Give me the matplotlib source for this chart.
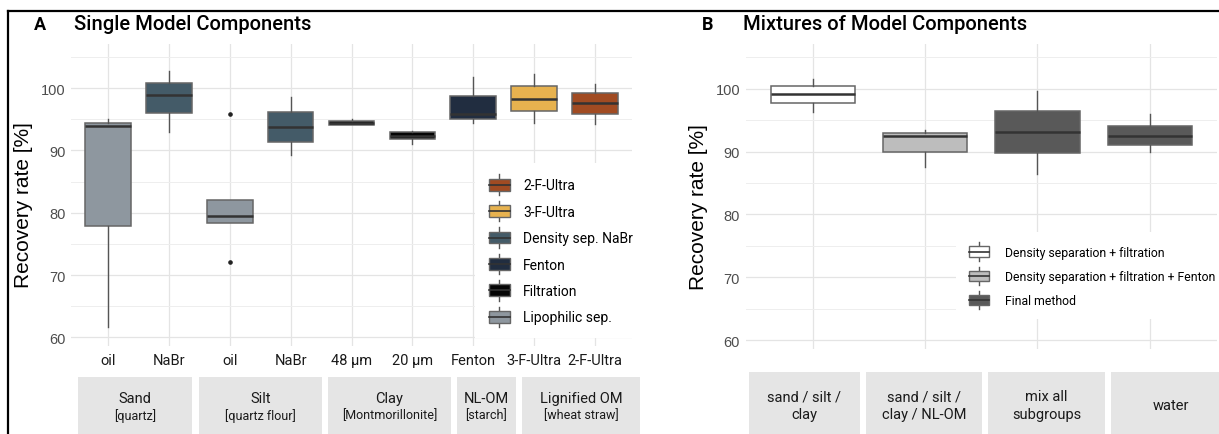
import matplotlib
matplotlib.use("Agg")
import matplotlib.pyplot as plt
from matplotlib.patches import Rectangle, Patch
from matplotlib.lines import Line2D
from matplotlib.legend_handler import HandlerBase

plt.rcParams['font.family'] = ['Roboto', 'DejaVu Sans']

W, H = 1219, 435

# ---- data: panel A (single model components)
a_labels = ['oil', 'NaBr', 'oil', 'NaBr', '48 µm', '20 µm', 'Fenton', '3-F-Ultra', '2-F-Ultra']
a_method = ['Lipophilic sep.', 'Density sep. NaBr', 'Lipophilic sep.', 'Density sep. NaBr',
            'Filtration', 'Filtration', 'Fenton', '3-F-Ultra', '2-F-Ultra']
a_q1 = [77.8, 96.0, 78.4, 91.4, 94.1, 91.9, 95.1, 96.3, 95.9]
a_med = [93.9, 98.9, 79.4, 93.7, 94.4, 92.4, 95.9, 98.3, 97.7]
a_q3 = [94.4, 100.9, 82.0, 96.1, 94.8, 93.0, 98.8, 100.3, 99.2]
a_lo = [61.7, 92.9, 78.4, 89.2, 94.1, 91.1, 94.4, 94.4, 94.3]
a_hi = [95.1, 102.8, 82.0, 98.6, 95.0, 93.2, 101.8, 102.3, 100.7]
a_out = [[], [], [95.8, 72.1], [], [], [], [], [], []]
a_groups = [('Sand', '[quartz]'), ('Silt', '[quartz flour]'), ('Clay', '[Montmorillonite]'),
            ('NL-OM', '[starch]'), ('Lignified OM', '[wheat straw]')]
a_legend = ['2-F-Ultra', '3-F-Ultra', 'Density sep. NaBr', 'Fenton', 'Filtration', 'Lipophilic sep.']

# ---- data: panel B (mixtures)
b_groups = ['sand / silt /\nclay', 'sand / silt /\nclay / NL-OM', 'mix all\nsubgroups', 'water']
b_method = ['Density separation + filtration', 'Density separation + filtration + Fenton',
            'Final method', 'Final method']
b_q1 = [97.7, 90.0, 89.7, 91.1]
b_med = [99.2, 92.4, 93.1, 92.4]
b_q3 = [100.4, 92.9, 96.4, 94.1]
b_lo = [96.3, 87.6, 86.4, 89.9]
b_hi = [101.6, 93.4, 99.7, 95.9]
b_legend = ['Density separation + filtration', 'Density separation + filtration + Fenton', 'Final method']

colors = {
    '2-F-Ultra': '#A14B22', '3-F-Ultra': '#E7B24F', 'Density sep. NaBr': '#445B68',
    'Fenton': '#212D40', 'Filtration': '#050505', 'Lipophilic sep.': '#8E979F',
    'Density separation + filtration': '#FFFFFF',
    'Density separation + filtration + Fenton': '#BDBDBD',
    'Final method': '#595959',
}
EDGE = '#666666'
MED = '#333333'
HELV = ['Liberation Sans', 'DejaVu Sans']


class BoxKey(HandlerBase):
    def create_artists(self, legend, orig, xd, yd, w, h, fs, trans):
        fc = orig.get_facecolor()
        bh = h * 0.76
        y0 = -yd + (h - bh) / 2
        x0 = -xd
        wt = Line2D([x0 + w / 2] * 2, [y0 + bh, y0 + bh + h * 0.28], color='#555555', lw=1, transform=trans)
        wb = Line2D([x0 + w / 2] * 2, [y0 - h * 0.28, y0], color='#555555', lw=1, transform=trans)
        rect = Rectangle((x0, y0), w, bh, facecolor=fc, edgecolor=EDGE, lw=1, transform=trans)
        med = Line2D([x0, x0 + w], [y0 + bh / 2] * 2, color=MED, lw=1.2, transform=trans)
        return [wt, wb, rect, med]


def style_axes(ax, n):
    ax.set_ylim(58.6, 107.1)
    ax.set_xlim(-0.6, n - 1 + 0.6)
    ax.set_yticks([60, 70, 80, 90, 100])
    ax.set_yticks([65, 75, 85, 95, 105], minor=True)
    ax.grid(True, which='major', color='#E4E4E4', lw=0.9)
    ax.grid(True, which='minor', axis='y', color='#EEEEEE', lw=0.7)
    ax.set_axisbelow(True)
    for s in ax.spines.values():
        s.set_visible(False)
    ax.tick_params(which='both', length=0)
    ax.tick_params(axis='y', labelsize=10.5, labelcolor='#4D4D4D', pad=4)
    ax.tick_params(axis='x', labelsize=10.5, labelcolor='#1A1A1A', pad=5)
    for t in ax.get_yticklabels():
        t.set_family(HELV)


def draw_boxes(ax, q1, med, q3, lo, hi, out, meth):
    stats = []
    for i in range(len(q1)):
        stats.append(dict(q1=q1[i], med=med[i], q3=q3[i], whislo=lo[i], whishi=hi[i], fliers=out[i]))
    res = ax.bxp(stats, positions=range(len(q1)), widths=0.75, patch_artist=True, showcaps=False,
                 boxprops=dict(edgecolor=EDGE, lw=1.1),
                 whiskerprops=dict(color='#555555', lw=1),
                 medianprops=dict(color=MED, lw=1.8),
                 flierprops=dict(marker='o', markersize=2.3, markerfacecolor='#222222',
                                 markeredgecolor='#222222'))
    for b, m in zip(res['boxes'], meth):
        b.set_facecolor(colors[m])


fig = plt.figure(figsize=(W / 100, H / 100), dpi=100)

# panel A
axA = fig.add_axes([71.4 / W, 1 - 347 / H, (631.6 - 71.4) / W, 302 / H])
draw_boxes(axA, a_q1, a_med, a_q3, a_lo, a_hi, a_out, a_method)
axA.set_xticks(range(len(a_labels)))
axA.set_xticklabels(a_labels)
style_axes(axA, len(a_labels))
axA.set_ylabel('Recovery rate [%]', fontsize=15, color='black', family=HELV)
axA.yaxis.set_label_coords(-0.0685, 0.47)
legA = axA.legend([Patch(facecolor=colors[m]) for m in a_legend], a_legend,
                  handler_map={Patch: BoxKey()}, loc='upper left',
                  bbox_to_anchor=(0.7205, 0.606), borderaxespad=0, borderpad=1.0,
                  fontsize=10, handlelength=1.5, handleheight=1.35, labelspacing=0.78,
                  handletextpad=0.95, frameon=True, fancybox=False, framealpha=1)
legA.get_frame().set_edgecolor('none')
legA.get_frame().set_facecolor('white')

# panel B
axB = fig.add_axes([745.6 / W, 1 - 350 / H, (1217 - 745.6) / W, 305 / H])
draw_boxes(axB, b_q1, b_med, b_q3, b_lo, b_hi, [[]] * len(b_q1), b_method)
axB.set_xticks(range(len(b_groups)))
axB.set_xticklabels([])
style_axes(axB, len(b_groups))
axB.set_ylabel('Recovery rate [%]', fontsize=15, color='black', family=HELV)
axB.yaxis.set_label_coords(-0.080, 0.47)
legB = axB.legend([Patch(facecolor=colors[m]) for m in b_legend], b_legend,
                  handler_map={Patch: BoxKey()}, loc='upper left',
                  bbox_to_anchor=(0.447, 0.382), borderaxespad=0, borderpad=1.0,
                  fontsize=8.8, handlelength=1.65, handleheight=1.4, labelspacing=0.82,
                  handletextpad=1.3, frameon=True, fancybox=False, framealpha=1)
legB.get_frame().set_edgecolor('none')
legB.get_frame().set_facecolor('white')

# strips under the panels (pixel extents of the grey label boxes)
STRIP = '#E5E5E5'
stripsA = [(78, 192), (199, 322), (328, 451), (457, 516), (522, 640)]
for (x0, x1), (big, small) in zip(stripsA, a_groups):
    fig.add_artist(Rectangle((x0 / W, 0), (x1 - x0) / W, 1 - 378 / H, transform=fig.transFigure,
                             facecolor=STRIP, edgecolor='none'))
    xc = (x0 + x1) / 2 / W
    fig.text(xc, 1 - 399 / H, big, ha='center', va='center', fontsize=10.5, color='#1A1A1A')
    fig.text(xc, 1 - 416 / H, small, ha='center', va='center', fontsize=9, color='#1A1A1A')

stripsB = [(749, 860), (866, 982), (988, 1105), (1111, 1230)]
for (x0, x1), lab in zip(stripsB, b_groups):
    fig.add_artist(Rectangle((x0 / W, 0), (x1 - x0) / W, 1 - 373 / H, transform=fig.transFigure,
                             facecolor=STRIP, edgecolor='none'))
    fig.text((x0 + x1) / 2 / W, 1 - 406 / H, lab, ha='center', va='center', fontsize=10.5,
             color='#1A1A1A', linespacing=1.3)

# titles
fig.text(34 / W, 1 - 25 / H, 'A', fontsize=13, weight='bold', va='center')
fig.text(74 / W, 1 - 25 / H, 'Single Model Components', fontsize=14.5, weight='medium', va='center')
fig.text(702 / W, 1 - 25 / H, 'B', fontsize=13, weight='bold', va='center')
fig.text(743 / W, 1 - 25 / H, 'Mixtures of Model Components', fontsize=14.5, weight='medium', va='center')

# outer frame (top and left edges)
fig.add_artist(Line2D([8 / W, 1], [1 - 12 / H] * 2, transform=fig.transFigure, color='black', lw=1.6))
fig.add_artist(Line2D([8 / W] * 2, [0, 1 - 12 / H], transform=fig.transFigure, color='black', lw=1.6))

fig.savefig('out.png', dpi=100)
